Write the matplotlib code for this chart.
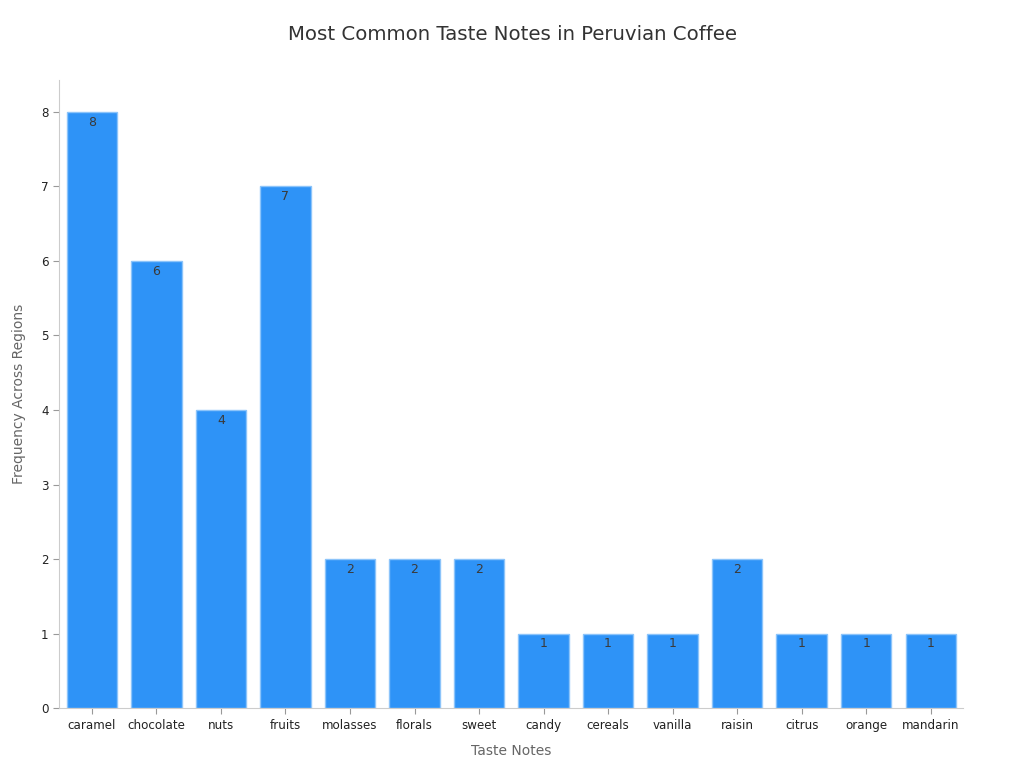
import matplotlib.pyplot as plt

notes = ['caramel', 'chocolate', 'nuts', 'fruits', 'molasses', 'florals', 'sweet',
         'candy', 'cereals', 'vanilla', 'raisin', 'citrus', 'orange', 'mandarin']
counts = [8, 6, 4, 7, 2, 2, 2, 1, 1, 1, 2, 1, 1, 1]

fig = plt.figure(figsize=(10.24, 7.68), dpi=100)
ax = fig.add_axes([0.0576, 0.078, 0.8828, 0.818])

bars = ax.bar(range(len(notes)), counts, width=0.78, color='#2e93f7',
              edgecolor='#8cc4fa', linewidth=1)
for b, v in zip(bars, counts):
    ax.text(b.get_x() + b.get_width() / 2, v - 0.05, str(v), ha='center', va='top',
            fontsize=9, color='#3a3a3a')

ax.set_xlim(-0.51, 13.5)
ax.set_ylim(0, 8.43)
ax.set_xticks(range(len(notes)))
ax.set_xticklabels(notes, fontsize=8.6)
ax.tick_params(axis='y', labelsize=8.6)
ax.tick_params(colors='#999999', length=4)
for lbl in ax.get_xticklabels() + ax.get_yticklabels():
    lbl.set_color('#222222')

for s in ['top', 'right']:
    ax.spines[s].set_visible(False)
for s in ['left', 'bottom']:
    ax.spines[s].set_color('#cccccc')

ax.set_xlabel('Taste Notes', fontsize=10, color='#666666', labelpad=9)
ax.set_ylabel('Frequency Across Regions', fontsize=10, color='#666666', labelpad=11)
fig.suptitle('Most Common Taste Notes in Peruvian Coffee', fontsize=14.2, color='#333333', y=0.968)

fig.savefig('out.png', dpi=100)
